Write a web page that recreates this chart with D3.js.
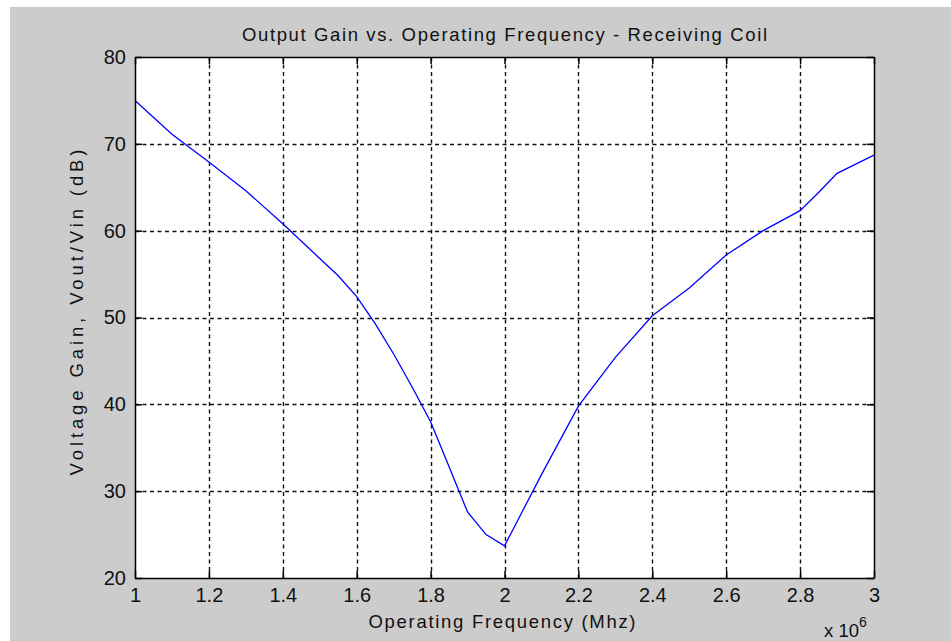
<!DOCTYPE html>
<html>
<head>
<meta charset="utf-8">
<script src="https://cdn.jsdelivr.net/npm/d3@7/dist/d3.min.js"></script>
<style>
  html, body { margin: 0; padding: 0; background: #ffffff; }
  svg { display: block; }
  text { font-family: "Liberation Sans", Arial, Helvetica, sans-serif; fill: #111; }
</style>
</head>
<body>
<svg id="chart" width="951" height="641"></svg>
<script>
// Operating frequency (Hz) and measured voltage gain (dB)
const frequency = [1.0e6, 1.1e6, 1.2e6, 1.3e6, 1.4e6, 1.5e6, 1.55e6, 1.6e6, 1.65e6, 1.7e6, 1.75e6,
                   1.8e6, 1.85e6, 1.9e6, 1.95e6, 2.0e6, 2.1e6, 2.2e6, 2.3e6, 2.4e6, 2.5e6,
                   2.6e6, 2.7e6, 2.8e6, 2.85e6, 2.9e6, 3.0e6];
const gainDb    = [75.0, 71.1, 67.9, 64.6, 60.8, 56.8, 54.8, 52.4, 49.3, 45.8, 42.0,
                   38.0, 32.8, 27.6, 25.0, 23.7, 31.9, 39.8, 45.4, 50.2, 53.4,
                   57.2, 60.0, 62.3, 64.4, 66.6, 68.7];
const xTicks = [1.0e6, 1.2e6, 1.4e6, 1.6e6, 1.8e6, 2.0e6, 2.2e6, 2.4e6, 2.6e6, 2.8e6, 3.0e6];
const xTickLabels = ["1", "1.2", "1.4", "1.6", "1.8", "2", "2.2", "2.4", "2.6", "2.8", "3"];
const yTicks = [20, 30, 40, 50, 60, 70, 80];

const titleText = "Output Gain vs. Operating Frequency - Receiving Coil";
const xLabelText = "Operating Frequency (Mhz)";
const yLabelText = "Voltage Gain, Vout/Vin (dB)";

const svg = d3.select("#chart");

// figure background
svg.append("rect").attr("x", 10).attr("y", 7).attr("width", 941).attr("height", 634)
  .attr("fill", "#cccccc");

const plot = { left: 135, top: 57, right: 874, bottom: 578 };
const x = d3.scaleLinear().domain([1e6, 3e6]).range([plot.left, plot.right]);
const y = d3.scaleLinear().domain([20, 80]).range([plot.bottom, plot.top]);

// axes area
svg.append("rect").attr("x", plot.left).attr("y", plot.top)
  .attr("width", plot.right - plot.left).attr("height", plot.bottom - plot.top)
  .attr("fill", "#ffffff");

// dotted grid
const grid = svg.append("g").attr("stroke", "#111").attr("stroke-width", 1.4)
  .attr("stroke-dasharray", "4,3.5");
grid.selectAll("line.gx").data(xTicks.slice(1, -1)).join("line")
  .attr("x1", d => Math.round(x(d)) + 0.5).attr("x2", d => Math.round(x(d)) + 0.5)
  .attr("y1", plot.top).attr("y2", plot.bottom);
grid.selectAll("line.gy").data(yTicks.slice(1, -1)).join("line")
  .attr("y1", d => Math.round(y(d)) + 0.5).attr("y2", d => Math.round(y(d)) + 0.5)
  .attr("x1", plot.left).attr("x2", plot.right);

// gain curve
const line = d3.line().x(d => x(d[0])).y(d => y(d[1]));
svg.append("path").datum(d3.zip(frequency, gainDb))
  .attr("d", line).attr("fill", "none").attr("stroke", "#0000ff").attr("stroke-width", 1.3);

// axes with inward ticks on all four sides
const tickLen = 7;
const axisFont = "20px";
const bottomAxis = d3.axisBottom(x).tickValues(xTicks).tickSizeInner(-tickLen).tickSizeOuter(0)
  .tickPadding(10).tickFormat((d, i) => xTickLabels[i]);
const leftAxis = d3.axisLeft(y).tickValues(yTicks).tickSizeInner(-tickLen).tickSizeOuter(0)
  .tickPadding(9).tickFormat(d3.format("d"));
const topAxis = d3.axisTop(x).tickValues(xTicks).tickSizeInner(-tickLen).tickSizeOuter(0).tickFormat("");
const rightAxis = d3.axisRight(y).tickValues(yTicks).tickSizeInner(-tickLen).tickSizeOuter(0).tickFormat("");

function styleAxis(g) {
  g.select(".domain").attr("stroke", "#000").attr("stroke-width", 1.5);
  g.selectAll(".tick line").attr("stroke", "#000").attr("stroke-width", 1.5);
  g.selectAll(".tick text").style("font-size", axisFont)
    .style("font-family", "'Liberation Sans', Arial, sans-serif").attr("fill", "#111");
}
svg.append("g").attr("transform", `translate(0,${plot.bottom})`).call(bottomAxis).call(styleAxis);
svg.append("g").attr("transform", `translate(${plot.left},0)`).call(leftAxis).call(styleAxis);
svg.append("g").attr("transform", `translate(0,${plot.top})`).call(topAxis).call(styleAxis);
svg.append("g").attr("transform", `translate(${plot.right},0)`).call(rightAxis).call(styleAxis);

// title and axis labels
svg.append("text").attr("x", (plot.left + plot.right) / 2).attr("y", 41)
  .attr("text-anchor", "middle").style("font-size", "18.5px")
  .attr("textLength", 525).attr("lengthAdjust", "spacing").text(titleText);

svg.append("text").attr("x", 502).attr("y", 628)
  .attr("text-anchor", "middle").style("font-size", "18.5px")
  .attr("textLength", 267).attr("lengthAdjust", "spacing").text(xLabelText);

svg.append("text")
  .attr("transform", `translate(83,${(plot.top + plot.bottom) / 2 - 5}) rotate(-90)`)
  .attr("text-anchor", "middle").style("font-size", "18.5px")
  .attr("textLength", 326).attr("lengthAdjust", "spacing").text(yLabelText);

// exponent multiplier for the frequency axis
const expo = svg.append("text").attr("x", 824).attr("y", 637).style("font-size", "18.5px");
expo.append("tspan").text("x 10");
expo.append("tspan").attr("dy", -10).style("font-size", "14px").text("6");
</script>
</body>
</html>
